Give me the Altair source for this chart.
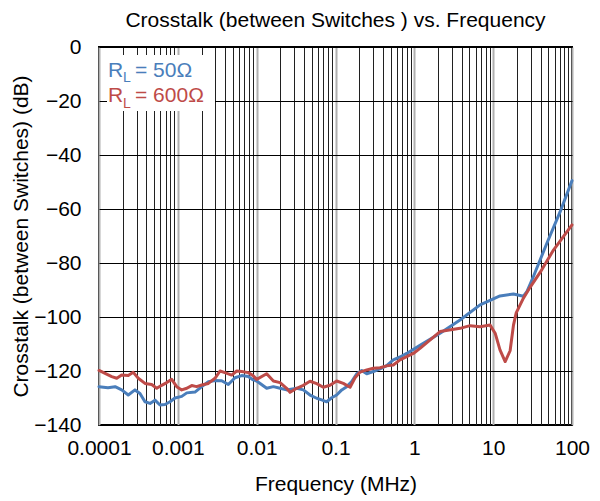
import altair as alt
import pandas as pd

# ---- data ----
freq_50 = [1e-4, 1.30e-4, 1.60e-4, 1.94e-4, 2.35e-4, 2.86e-4, 3.31e-4, 3.83e-4, 4.44e-4, 5.13e-4,
           5.94e-4, 6.87e-4, 7.96e-4, 9.21e-4, 1.12e-3, 1.30e-3, 1.65e-3, 2.01e-3, 2.44e-3, 2.96e-3,
           3.60e-3, 4.37e-3, 5.31e-3, 6.46e-3, 7.83e-3, 9.06e-3, 1.00e-2, 1.34e-2, 1.63e-2, 1.98e-2,
           2.40e-2, 3.22e-2, 3.91e-2, 4.75e-2, 5.78e-2, 6.68e-2, 7.73e-2, 8.95e-2, 0.1035, 0.120,
           0.1387, 0.1606, 0.186, 0.215, 0.249, 0.302, 0.367, 0.446, 0.541, 0.658,
           0.800, 1.18, 2.12, 3.80, 6.82, 12.2, 18.1, 24.2, 26.9, 32.4,
           48.0, 70.8, 100]
db_50 = [-125.8, -126.2, -125.8, -127.0, -128.9, -127.0, -128.3, -131.4, -132.0, -130.8,
         -132.6, -132.4, -131.4, -130.0, -129.4, -128.1, -127.8, -125.8, -124.0, -123.5,
         -123.6, -125.0, -122.5, -121.7, -122.0, -123.3, -123.7, -126.4, -125.8, -126.4,
         -127.0, -126.4, -127.0, -128.9, -130.1, -130.7, -131.4, -129.9, -128.9, -127.0,
         -125.8, -123.9, -121.0, -119.8, -121.0, -120.2, -119.2, -118.0, -115.9, -114.8,
         -113.5, -110.5, -106.0, -101.1, -95.5, -92.2, -91.5, -92.3, -90.5, -85.0,
         -72.7, -61.0, -49.5]

freq_600 = [1e-4, 1.45e-4, 1.68e-4, 1.94e-4, 2.35e-4, 2.72e-4, 3.15e-4, 3.83e-4, 4.66e-4, 5.40e-4,
            6.24e-4, 7.22e-4, 8.36e-4, 9.68e-4, 1.12e-3, 1.30e-3, 1.50e-3, 1.73e-3, 2.01e-3, 2.44e-3,
            2.96e-3, 3.43e-3, 3.96e-3, 4.82e-3, 5.58e-3, 6.46e-3, 7.83e-3, 9.06e-3, 1.00e-2, 1.34e-2,
            1.63e-2, 1.98e-2, 2.40e-2, 2.65e-2, 3.22e-2, 3.91e-2, 4.75e-2, 5.78e-2, 7.00e-2, 8.51e-2,
            0.1035, 0.1256, 0.153, 0.177, 0.205, 0.249, 0.302, 0.367, 0.446, 0.541,
            0.658, 0.800, 0.971, 1.18, 2.12, 3.80, 5.09, 6.82, 9.14, 10.6,
            12.2, 14.2, 16.4, 18.1, 19.6, 24.2, 29.4, 39.4, 58.2, 100]
db_600 = [-119.8, -122.1, -122.7, -121.5, -121.7, -120.5, -122.7, -124.6, -125.0, -126.4,
          -125.3, -124.3, -123.1, -125.8, -127.0, -126.4, -125.4, -125.8, -125.2, -124.6,
          -122.7, -120.0, -120.6, -121.5, -120.0, -120.2, -120.6, -121.8, -123.1, -121.0,
          -123.7, -124.3, -126.4, -127.9, -126.4, -125.3, -123.8, -124.7, -126.0, -125.3,
          -123.7, -124.6, -126.0, -122.5, -120.4, -119.6, -119.0, -118.8, -118.1, -117.8,
          -115.9, -114.7, -113.5, -111.6, -105.4, -104.2, -103.2, -103.6, -103.0, -106.0,
          -112.2, -116.5, -112.5, -103.0, -98.5, -93.0, -89.0, -83.5, -75.2, -65.9]

series_names = ["RL = 50Ω", "RL = 600Ω"]
series_colors = ["#4A7EBB", "#BE4B48"]

x_ticks = [m * 10.0 ** e for e in range(-4, 2) for m in range(1, 10)] + [100.0]
y_ticks = [0, -20, -40, -60, -80, -100, -120, -140]

df = pd.concat([
    pd.DataFrame({"freq": freq_50, "db": db_50, "series": series_names[0]}),
    pd.DataFrame({"freq": freq_600, "db": db_600, "series": series_names[1]}),
])

FONT = "Liberation Sans"
FS = 21
decade_test = "abs(log(datum.value)/LN10 - round(log(datum.value)/LN10)) < 0.001"

lines = alt.Chart(df).mark_line(strokeWidth=3, strokeJoin="round", strokeCap="round").encode(
    x=alt.X("freq:Q",
            scale=alt.Scale(type="log", domain=[1e-4, 100], nice=False),
            axis=alt.Axis(values=x_ticks, title="Frequency (MHz)",
                          labelExpr=f"({decade_test}) ? format(datum.value, '~g') : ''",
                          labelOverlap=False, labelFlush=False, ticks=False, domain=False,
                          labelFontSize=FS, labelFont=FONT, labelColor="black", labelPadding=12,
                          titleFontSize=FS, titleFont=FONT, titleFontWeight="normal",
                          titleColor="black", titlePadding=15,
                          gridColor={"condition": {"test": decade_test, "value": "#b0b0b0"},
                                     "value": "#202020"},
                          gridWidth={"condition": {"test": decade_test, "value": 2},
                                     "value": 1},
                          gridOpacity=1)),
    y=alt.Y("db:Q",
            scale=alt.Scale(domain=[-140, 0], nice=False),
            axis=alt.Axis(values=y_ticks, title="Crosstalk (between Switches) (dB)",
                          ticks=False, domain=False,
                          labelFontSize=FS, labelFont=FONT, labelColor="black", labelPadding=18,
                          titleFontSize=FS, titleFont=FONT, titleFontWeight="normal",
                          titleColor="black", titlePadding=2,
                          gridColor="black", gridWidth=1, gridOpacity=1)),
    color=alt.Color("series:N", scale=alt.Scale(domain=series_names, range=series_colors),
                    legend=None),
)

legend_box = alt.Chart(pd.DataFrame({"k": [0]})).mark_rect(fill="white").encode(
    x=alt.value(8), x2=alt.value(116), y=alt.value(8), y2=alt.value(64))


def txt(t, x, y, size, color):
    return alt.Chart(pd.DataFrame({"t": [t]})).mark_text(
        align="left", baseline="alphabetic", font=FONT, fontSize=size, color=color
    ).encode(text="t:N", x=alt.value(x), y=alt.value(y))


legend_layers = [
    txt("R", 9, 30, FS, series_colors[0]),
    txt("L", 24, 35, 14, series_colors[0]),
    txt("= 50Ω", 36, 30, FS, series_colors[0]),
    txt("R", 9, 55, FS, series_colors[1]),
    txt("L", 24, 61, 14, series_colors[1]),
    txt("= 600Ω", 36, 55, FS, series_colors[1]),
]

chart = alt.layer(lines, legend_box, *legend_layers).properties(
    width=473, height=378,
    title=alt.TitleParams("Crosstalk (between Switches ) vs. Frequency", fontSize=FS, font=FONT,
                          fontWeight="normal", color="black", anchor="middle", offset=5,
                          frame="group"),
    autosize=alt.AutoSizeParams(type="none"),
    padding={"left": 91, "top": 39, "right": 20, "bottom": 72},
).configure_view(stroke="black", strokeWidth=2)

chart.save("out.html", embed_options={"renderer": "svg", "actions": False})
